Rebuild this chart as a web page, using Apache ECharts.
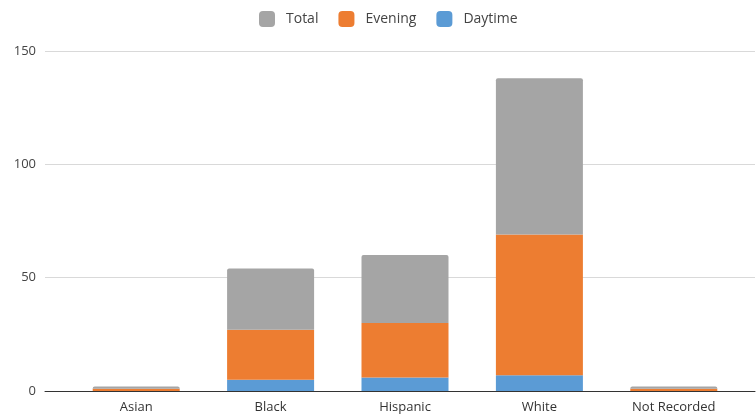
<!DOCTYPE html>
<html>
<head>
<meta charset="utf-8">
<script src="https://cdn.jsdelivr.net/npm/echarts@6/dist/echarts.min.js"></script>
<style>html,body{margin:0;padding:0;background:#fff;}#c{width:756px;height:414px;}</style>
</head>
<body>
<div id="c"></div>
<script>
const categories = ['Asian', 'Black', 'Hispanic', 'White', 'Not Recorded'];
const daytime = [0, 5, 6, 7, 0];
const evening = [1, 22, 24, 62, 1];
const total = [1, 27, 30, 69, 1];
const yTicks = [0, 50, 100, 150];

const chart = echarts.init(document.getElementById('c'), null, {renderer: 'canvas'});
const font = 'Open Sans';
chart.setOption({
  animation: false,
  backgroundColor: '#fff',
  textStyle: {fontFamily: font},
  legend: {
    top: 6, left: 254,
    itemWidth: 16, itemHeight: 16, itemGap: 20,
    icon: 'roundRect',
    textStyle: {fontFamily: font, fontSize: 14, color: '#444', padding: [0, 0, 0, 6]},
    data: ['Total', 'Evening', 'Daytime']
  },
  grid: [
    {left: 45, right: 1, top: 51, bottom: 23},
    {left: 69, right: 15, top: 51, bottom: 23}
  ],
  xAxis: [
    {gridIndex: 0, type: 'category', data: [''], axisLine: {show: true, lineStyle: {color: '#333', width: 1}},
     axisTick: {show: false}, axisLabel: {show: false}},
    {gridIndex: 1, type: 'category', data: categories, axisLine: {show: false}, axisTick: {show: false},
     axisLabel: {fontFamily: font, fontSize: 13, color: '#333', margin: 10, interval: 0}}
  ],
  yAxis: [
    {gridIndex: 0, type: 'value', min: yTicks[0], max: yTicks[yTicks.length - 1], interval: 50,
     axisLine: {show: false}, axisTick: {show: false},
     axisLabel: {fontFamily: font, fontSize: 13, color: '#444', margin: 9},
     splitLine: {lineStyle: {color: '#d9d9d9', width: 1}}},
    {gridIndex: 1, type: 'value', min: yTicks[0], max: yTicks[yTicks.length - 1], interval: 50,
     show: false, splitLine: {show: false}}
  ],
  series: [
    {name: 'Daytime', type: 'bar', stack: 's', xAxisIndex: 1, yAxisIndex: 1, data: daytime,
     barWidth: 87, itemStyle: {color: '#5b9bd5'}},
    {name: 'Evening', type: 'bar', stack: 's', xAxisIndex: 1, yAxisIndex: 1, data: evening,
     barWidth: 87, itemStyle: {color: '#ed7d31'}},
    {name: 'Total', type: 'bar', stack: 's', xAxisIndex: 1, yAxisIndex: 1, data: total,
     barWidth: 87, itemStyle: {color: '#a5a5a5', borderRadius: [2, 2, 0, 0]}}
  ]
});
</script>
</body>
</html>
